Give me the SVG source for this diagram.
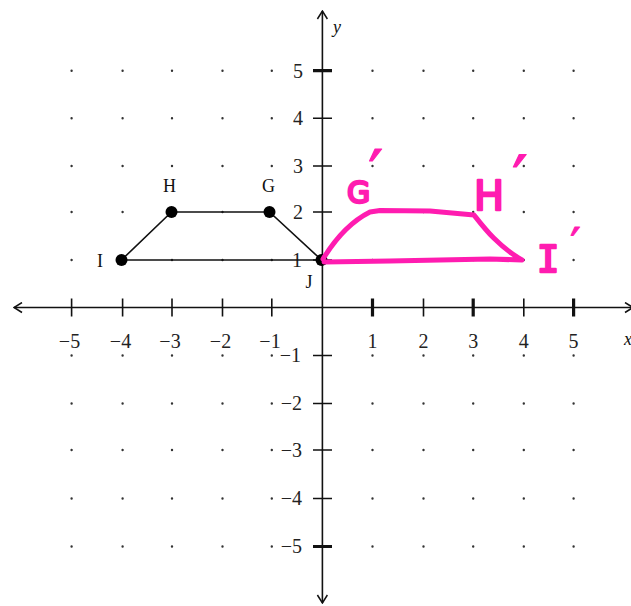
<svg xmlns="http://www.w3.org/2000/svg" width="631" height="606" viewBox="0 0 631 606">
<style>
.ax{stroke:#111;stroke-width:1.6;fill:none}
.tk{stroke:#111;stroke-width:1.6}
.tkb{stroke:#111;stroke-width:3.2}
.num{font-family:"Liberation Serif","Times New Roman",serif;font-size:20px;fill:#222}
.lbl{font-family:"Liberation Serif","Times New Roman",serif;font-size:18px;fill:#111}
.fig{stroke:#111;stroke-width:1.6;fill:none}
.pt{fill:#000}
.mg{stroke:#ff1cb0;stroke-width:5;fill:none;stroke-linecap:round;stroke-linejoin:round}
.mgt{font-family:"DejaVu Sans","Liberation Sans",sans-serif;fill:#ff1cb0;stroke:#ff1cb0;stroke-width:2.4;stroke-linejoin:round}
.pr{font-family:"DejaVu Sans","Liberation Sans",sans-serif;stroke-width:1.2}
.mono{font-family:"DejaVu Sans Mono","Liberation Mono",monospace}
</style>
<defs>
<path id="row" d="M71.6,0h0m51,0h0m49.4,0h0m50.5,0h0m49.3,0h0m100.7,0h0m51,0h0m49.7,0h0m50.6,0h0m49.8,0h0" stroke="#333" stroke-width="2.4" stroke-linecap="round"/>
<marker id="arr" viewBox="0 0 12 12" refX="11" refY="6" markerWidth="12" markerHeight="12" markerUnits="userSpaceOnUse" orient="auto-start-reverse">
<path d="M3,1 L11,6 L3,11" fill="none" stroke="#111" stroke-width="1.5"/>
</marker>
</defs>
<rect width="631" height="606" fill="#fff"/>
<g id="grid-dots">
<use href="#row" y="70.7"/><use href="#row" y="118.3"/><use href="#row" y="166"/><use href="#row" y="212"/><use href="#row" y="260"/>
<use href="#row" y="355.5"/><use href="#row" y="403.5"/><use href="#row" y="450"/><use href="#row" y="498.5"/><use href="#row" y="546.5"/>
</g>
<g id="axes">
<line class="ax" x1="322.4" y1="307.5" x2="14" y2="307.5" marker-end="url(#arr)"/>
<line class="ax" x1="322.4" y1="307.5" x2="633" y2="307.5" marker-end="url(#arr)"/>
<line class="ax" x1="322.4" y1="307.5" x2="322.4" y2="11" marker-end="url(#arr)"/>
<line class="ax" x1="322.4" y1="307.5" x2="322.4" y2="603" marker-end="url(#arr)"/>
<path class="tk" d="M71.6,298.5v18M122.6,298.5v18M172,298.5v18M222.5,298.5v18M271.8,298.5v18M423.5,298.5v18M523.8,298.5v18"/>
<path class="tkb" d="M372.5,298.5v18M473.2,298.5v18M573.6,298.5v18"/>
<path class="tk" d="M313,118.3h19M313,166h19M313,212h19M313,260h19M313,355.5h19M313,403.5h19M313,450h19M313,498.5h19"/>
<path class="tkb" d="M313,70.7h19M313,546.5h19"/>
<g class="num" text-anchor="middle">
<text x="69.5" y="347.5">−5</text><text x="120.5" y="347.5">−4</text><text x="170" y="347.5">−3</text><text x="220.5" y="347.5">−2</text><text x="270" y="347.5">−1</text>
<text x="372.5" y="347.5">1</text><text x="423.5" y="347.5">2</text><text x="473.2" y="347.5">3</text><text x="523.8" y="347.5">4</text><text x="573.6" y="347.5">5</text>
</g>
<g class="num" text-anchor="end">
<text x="303" y="77.5">5</text><text x="303" y="125">4</text><text x="303" y="172.7">3</text><text x="303" y="218.7">2</text><text x="302" y="266.7">1</text>
<text x="301" y="362.2">−1</text><text x="302" y="410.2">−2</text><text x="302" y="456.7">−3</text><text x="302" y="505.2">−4</text><text x="302" y="553.2">−5</text>
</g>
<text class="lbl" x="333" y="33" font-style="italic">y</text>
<text class="lbl" x="624" y="345" font-style="italic">x</text>
</g>
<g id="figure-GHIJ">
<path class="fig" d="M171.5,212 L269.5,212 L321.5,260 L121.5,260 Z"/>
</g>
<g id="point-H"><circle class="pt" cx="171.5" cy="212" r="6"/><text class="lbl" x="169.5" y="192" text-anchor="middle">H</text></g>
<g id="point-G"><circle class="pt" cx="269.5" cy="212" r="6"/><text class="lbl" x="268.5" y="192" text-anchor="middle">G</text></g>
<g id="point-I"><circle class="pt" cx="121.5" cy="260" r="6"/><text class="lbl" x="100" y="266.5" text-anchor="middle">I</text></g>
<g id="point-J"><circle class="pt" cx="321.5" cy="260" r="6"/><text class="lbl" x="309" y="287.5" text-anchor="middle">J</text></g>
<g id="image-figure">
<path class="mg" d="M323,259 C334,241 350,222 370,212 L380,210.5 L430,211 L452,213 L474,215 C485,229 498,246 522,260 L490,259 L390,261 L324,262"/>
</g>
<g id="label-G-prime"><text class="mgt" x="347" y="203" font-size="30">G<tspan class="pr" font-size="66" dx="-2" dy="-6">′</tspan></text></g>
<g id="label-H-prime"><text class="mgt" x="474" y="210" font-size="40">H<tspan class="pr" font-size="70" dx="8" dy="-5">′</tspan></text></g>
<g id="label-I-prime"><text class="mgt" x="537" y="272" font-size="37"><tspan class="mono">I</tspan><tspan class="pr" font-size="46" dx="11" dy="-11">′</tspan></text></g>
</svg>
